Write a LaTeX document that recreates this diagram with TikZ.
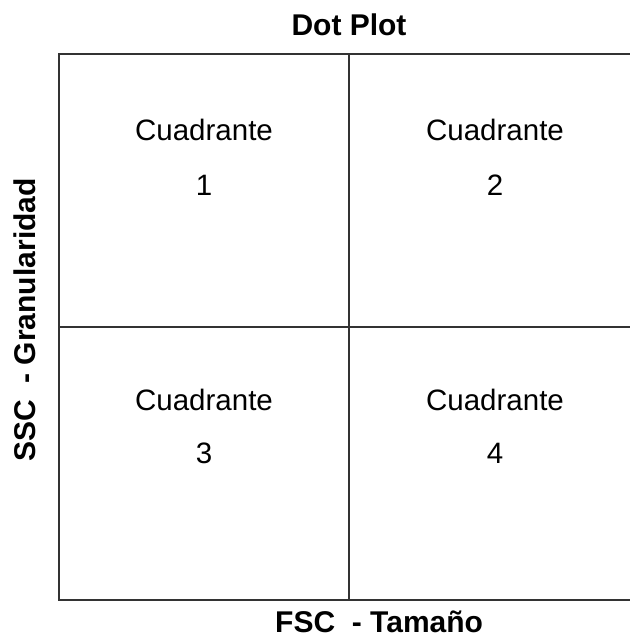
\documentclass[tikz,border=0pt]{standalone}
\usepackage{fontspec}
\setmainfont{Liberation Sans}
\begin{document}
\begin{tikzpicture}[x=1pt,y=-1pt,
  gridline/.style={draw=black!80,line width=2pt},
  quad/.style={font=\fontsize{29.5}{36}\selectfont,align=center,inner sep=0pt},
  axislabel/.style={font=\fontsize{30}{36}\selectfont\bfseries,inner sep=0pt}]
  \useasboundingbox (0,0) rectangle (629,639);
  % plot frame and quadrant dividers
  \coordinate (tl) at (59,54);
  \coordinate (br) at (639,600);
  \coordinate (tm) at (349,54);
  \coordinate (bm) at (349,600);
  \coordinate (ml) at (59,327);
  \coordinate (mr) at (639,327);
  \draw[gridline] (tl) rectangle (br);
  \draw[gridline] (tm) -- (bm);
  \draw[gridline] (ml) -- (mr);
  % quadrant labels
  \node[quad] (q1) at (204,130) {Cuadrante};
  \node[quad] (n1) at (204,185) {1};
  \node[quad] (q2) at (495,130) {Cuadrante};
  \node[quad] (n2) at (495,185) {2};
  \node[quad] (q3) at (204,400) {Cuadrante};
  \node[quad] (n3) at (204,453) {3};
  \node[quad] (q4) at (495,400) {Cuadrante};
  \node[quad] (n4) at (495,453) {4};
  % axis titles
  \node[axislabel] (title) at (349,25) {Dot Plot};
  \node[axislabel,anchor=west] (xlab) at (275,622) {FSC\ \ - Tamaño};
  \node[axislabel,rotate=90] (ylab) at (25,320) {SSC\ \ - Granularidad};
\end{tikzpicture}
\end{document}
